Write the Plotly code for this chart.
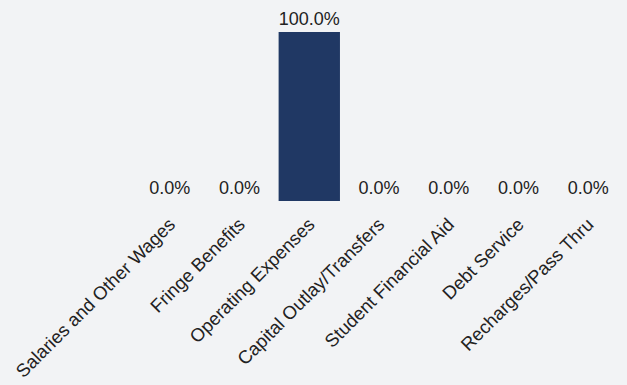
import plotly.graph_objects as go

categories = ["Salaries and Other Wages", "Fringe Benefits", "Operating Expenses",
              "Capital Outlay/Transfers", "Student Financial Aid", "Debt Service",
              "Recharges/Pass Thru"]
values = [0.0, 0.0, 100.0, 0.0, 0.0, 0.0, 0.0]
labels = [f"{v:.1f}%" for v in values]

fig = go.Figure(go.Bar(
    x=categories, y=values, text=labels, textposition="outside",
    marker=dict(color="#203864", line=dict(width=0)),
    cliponaxis=False, constraintext="none",
    textfont=dict(size=18, color="#222222"),
))
fig.update_layout(
    width=627, height=385,
    paper_bgcolor="#f2f3f5", plot_bgcolor="#f2f3f5",
    margin=dict(l=135, r=4, t=32, b=184, autoexpand=False),
    font=dict(family="Liberation Sans, Arial, sans-serif", size=18, color="#222222"),
    bargap=0.12, showlegend=False,
)
fig.update_xaxes(tickangle=-45, showline=False, showgrid=False, ticks="",
                 tickfont=dict(size=18.5), automargin=False, ticklabelstandoff=8)
fig.update_yaxes(visible=False, range=[0, 100], automargin=False)
fig.write_html("out.html", config={"displayModeBar": False},
               post_script="document.body.style.margin='0';document.body.style.background='#f2f3f5';")
